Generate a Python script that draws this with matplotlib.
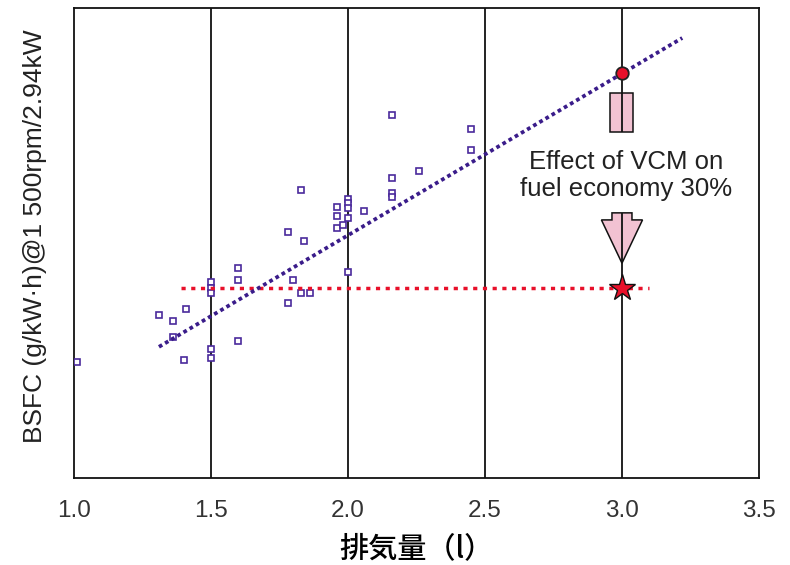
import matplotlib
matplotlib.use('Agg')
import matplotlib.pyplot as plt
from matplotlib.patches import Rectangle, FancyArrow

# engine displacement (l) vs BSFC (arbitrary scale, no y ticks in original)
disp = [1.01, 1.31, 1.36, 1.41, 1.36, 1.40, 1.50, 1.50, 1.50, 1.50, 1.50,
        1.60, 1.60, 1.60, 1.83, 1.78, 1.84, 1.80, 1.83, 1.86, 1.78,
        1.96, 1.96, 1.96, 1.98, 2.00, 2.00, 2.00, 2.00, 2.00,
        2.16, 2.45, 2.45, 2.26, 2.16, 2.16, 2.16, 2.06]
bsfc = [24.6, 34.7, 33.5, 35.9, 29.9, 25.0, 41.6, 40.5, 39.4, 27.4, 25.6,
        44.6, 42.1, 29.1, 61.2, 52.3, 50.5, 42.1, 39.4, 39.4, 37.2,
        57.7, 55.7, 53.2, 53.8, 59.4, 58.4, 57.4, 55.3, 43.9,
        77.2, 74.2, 69.8, 65.2, 63.8, 60.7, 59.7, 56.9]

fit_x = [1.31, 3.22]
fit_y = [27.9, 93.6]
target_x = [1.39, 3.10]
target_y = [40.4, 40.4]
cur_x, cur_y = 3.0, 86.2
vcm_x, vcm_y = 3.0, 40.4

# arrow between the two points (broken by the label)
rect_top, rect_bottom = 81.9, 73.6
head_top, head_tip = 56.4, 45.7

xticks = [1.0, 1.5, 2.0, 2.5, 3.0, 3.5]
xticklabels = ['1.0', '1.5', '2.0', '2.5', '3.0', '3.5']

purple = '#4a2a9c'
pink = '#f2c2d2'
red = '#e8102a'

fig = plt.figure(figsize=(7.9, 5.65), dpi=100)
ax = fig.add_axes([0.0937, 0.154, 0.867, 0.832])

for gx in xticks[1:-2]:
    ax.axvline(gx, color='#111111', lw=1.3, zorder=3)
# the 3.0 line stops where the label sits
ax.vlines(cur_x, 0, head_top, color='#111111', lw=1.3, zorder=3)
ax.vlines(cur_x, rect_bottom, 100, color='#111111', lw=1.3, zorder=3)

ax.plot(disp, bsfc, linestyle='none', marker='s', markersize=4.5,
        markerfacecolor='white', markeredgecolor=purple, markeredgewidth=1.2, zorder=4)

ax.plot(target_x, target_y, color=red, lw=2.5, linestyle=(0, (1.2, 1.6)), zorder=4)
ax.plot(fit_x, fit_y, color='#3a1c8a', lw=2.7, linestyle=(0, (1.0, 0.9)), zorder=5)

ax.add_patch(Rectangle((cur_x - 0.042, rect_bottom), 0.084, rect_top - rect_bottom,
                       facecolor=pink, edgecolor='#111111', lw=1.1, zorder=2))
ax.add_patch(FancyArrow(vcm_x, head_top, 0, head_tip - head_top, width=0.073,
                        head_width=0.15, head_length=9.2, length_includes_head=True,
                        facecolor=pink, edgecolor='#111111', lw=1.1, zorder=2))

ax.text(3.015, 64.4, 'Effect of VCM on\nfuel economy 30%', ha='center', va='center',
        fontsize=18.5, family='Liberation Sans', color='#222222', linespacing=1.15,
        zorder=6)

ax.plot([cur_x], [cur_y], marker='o', markersize=9, markerfacecolor=red,
        markeredgecolor='#222222', markeredgewidth=1.3, zorder=7)
ax.plot([vcm_x], [vcm_y], marker='*', markersize=20, markerfacecolor=red,
        markeredgecolor='#111111', markeredgewidth=1.0, zorder=7)

ax.set_xlim(1.0, 3.5)
ax.set_ylim(0, 100)
ax.set_xticks(xticks)
ax.set_xticklabels(xticklabels, family='Liberation Sans', fontsize=17.5, color='#333333')
ax.set_yticks([])
ax.tick_params(axis='x', length=0, pad=16)
for s in ax.spines.values():
    s.set_linewidth(1.3)
    s.set_color('#111111')

ax.set_xlabel('排気量（l）', family=['Noto Sans CJK JP', 'DejaVu Sans'], fontsize=21,
              fontweight='medium', labelpad=8)
ax.set_ylabel('BSFC (g/kW·h)@1 500rpm/2.94kW', family='Liberation Sans', fontsize=19,
              color='#222222')
ax.yaxis.set_label_coords(-0.04, 0.514)

fig.savefig('out.png', dpi=100)
